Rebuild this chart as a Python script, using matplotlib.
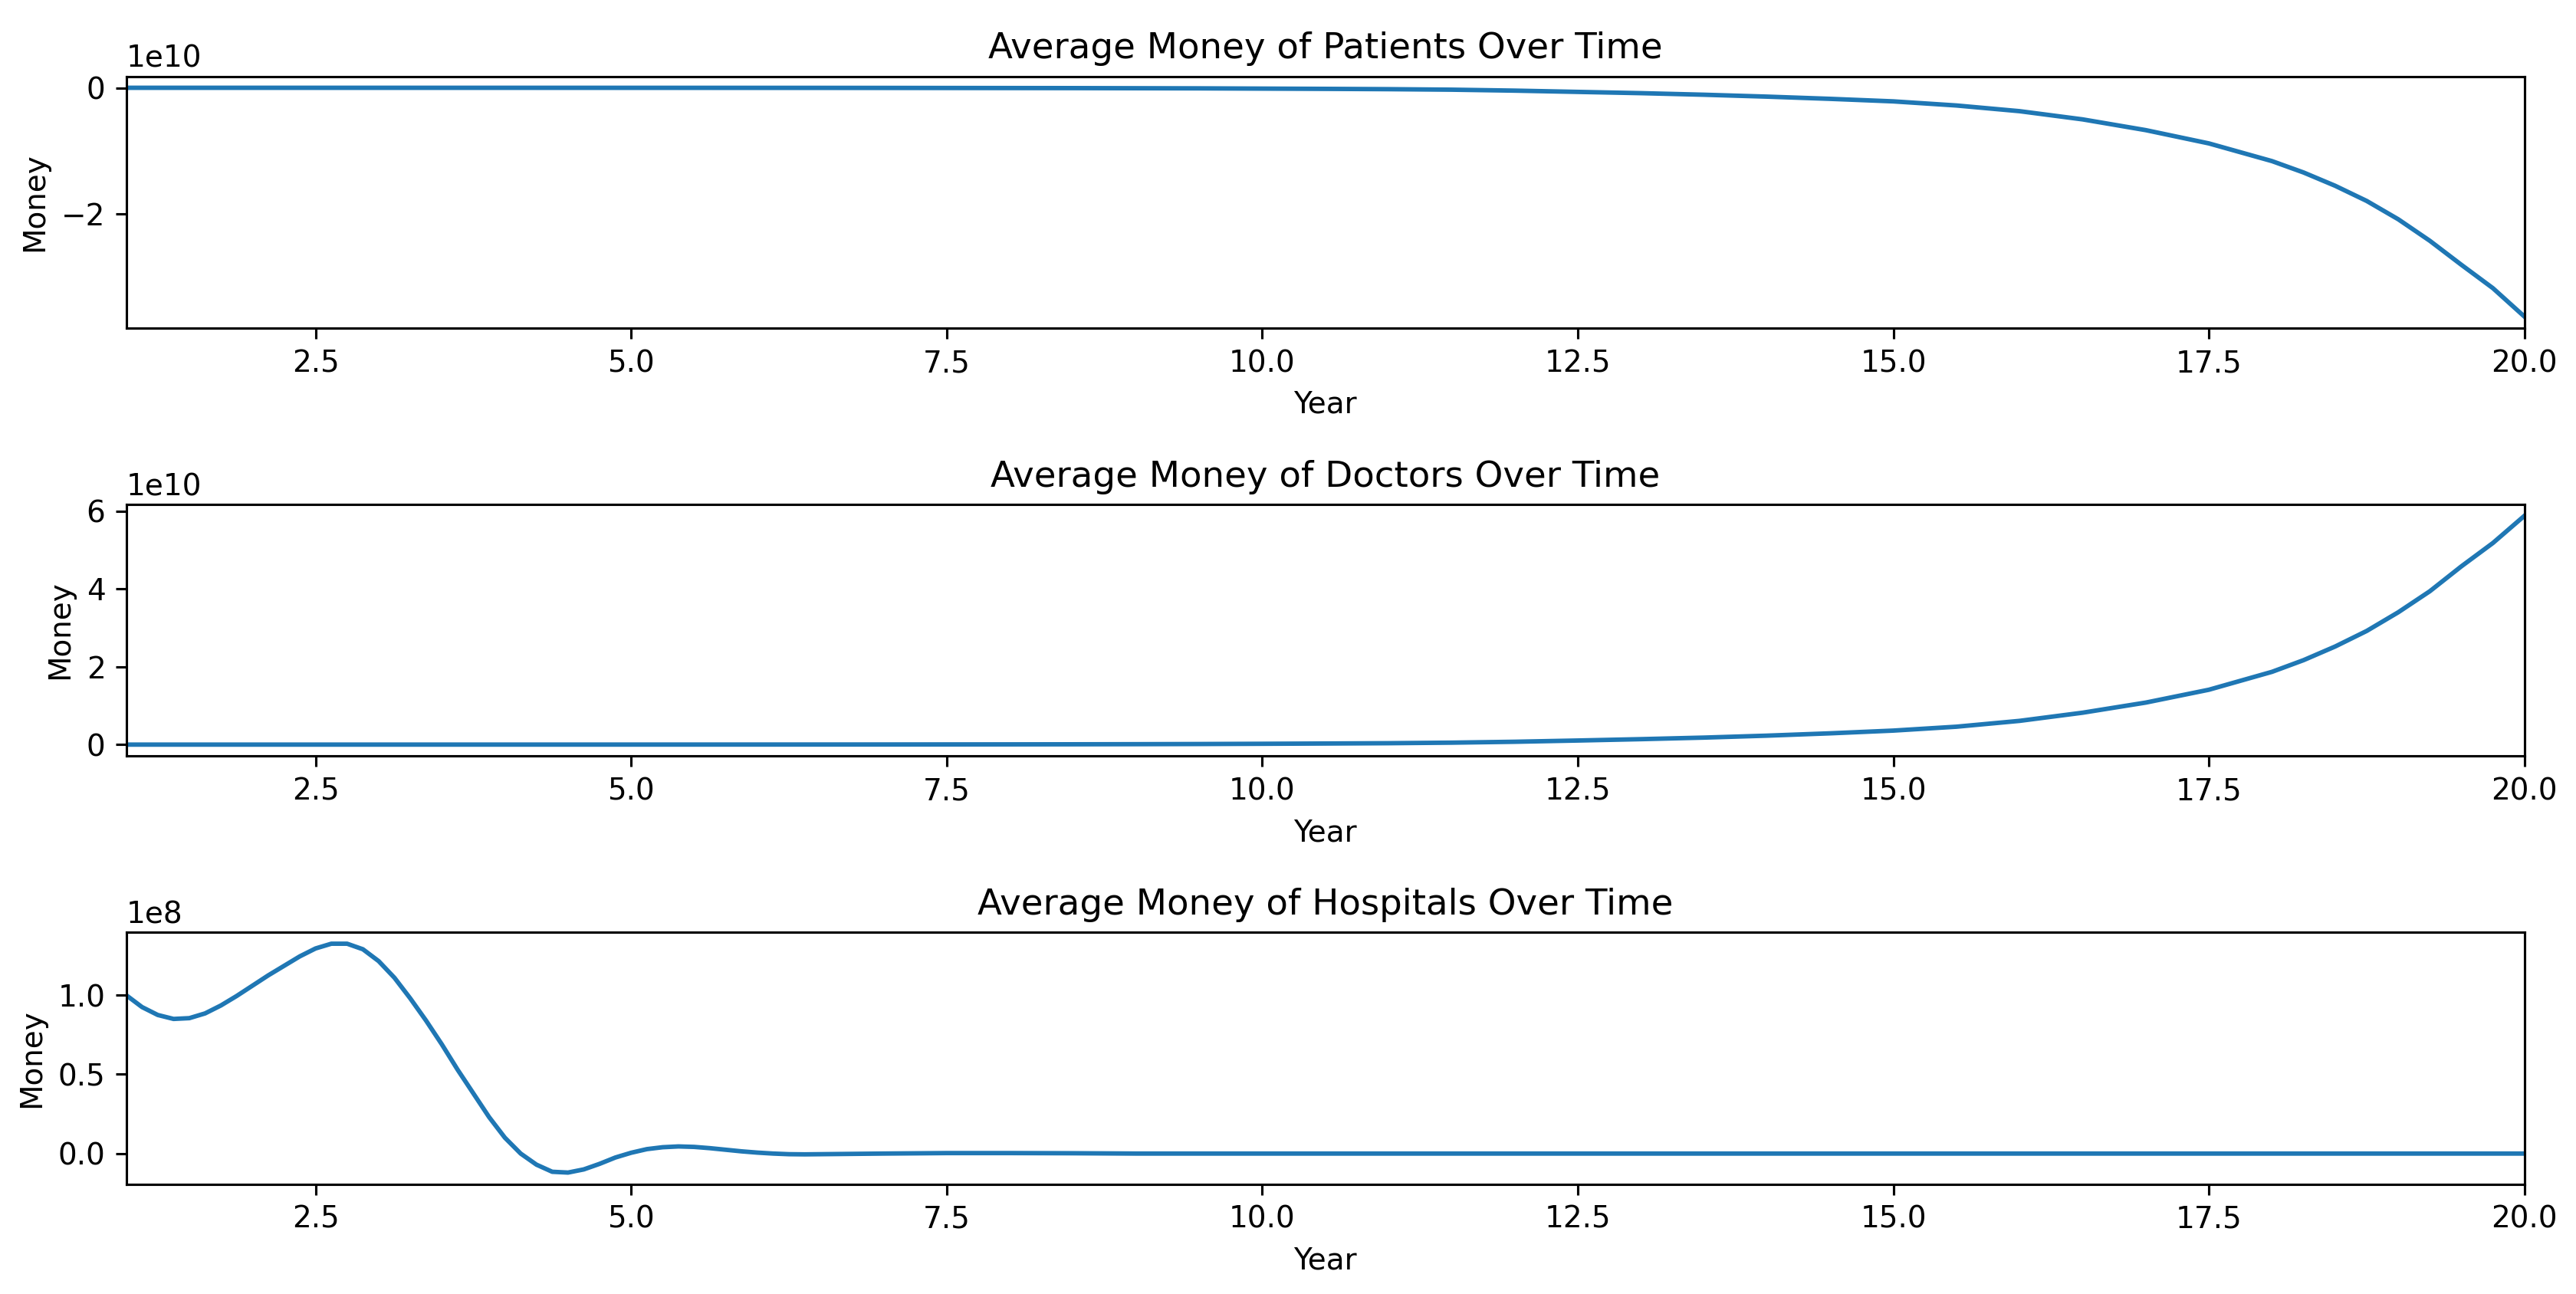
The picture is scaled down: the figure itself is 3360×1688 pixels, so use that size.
import matplotlib
matplotlib.use('Agg')
import matplotlib.pyplot as plt

# years for patients / doctors series
years = [1.0, 1.5, 2.0, 2.5, 3.0, 3.5, 4.0, 4.5, 5.0, 5.5, 6.0, 6.5, 7.0, 7.5,
         8.0, 8.5, 9.0, 9.5, 10.0, 10.5, 11.0, 11.5, 12.0, 12.5, 13.0, 13.5,
         14.0, 14.5, 15.0, 15.5, 16.0, 16.5, 17.0, 17.5, 18.0, 18.25, 18.5,
         18.75, 19.0, 19.25, 19.5, 19.75, 20.0]

# average money, units of 1e10
patients_money = [0.0, 0.0, 0.0, -0.0001, -0.0001, -0.0002, -0.0002, -0.0003,
                  -0.0005, -0.0007, -0.001, -0.0013, -0.002, -0.003, -0.004,
                  -0.005, -0.007, -0.009, -0.013, -0.017, -0.022, -0.03,
                  -0.045, -0.065, -0.085, -0.11, -0.14, -0.175, -0.215, -0.28,
                  -0.37, -0.50, -0.67, -0.88, -1.16, -1.34, -1.55, -1.79,
                  -2.08, -2.42, -2.80, -3.17, -3.62]

doctors_money = [0.0, 0.0, 0.0, 0.0001, 0.0002, 0.0003, 0.0004, 0.0005, 0.0008,
                 0.0011, 0.0016, 0.0022, 0.003, 0.0045, 0.006, 0.008, 0.011,
                 0.015, 0.021, 0.028, 0.036, 0.05, 0.073, 0.105, 0.14, 0.18,
                 0.23, 0.29, 0.36, 0.46, 0.61, 0.82, 1.08, 1.41, 1.87, 2.17,
                 2.52, 2.92, 3.40, 3.94, 4.58, 5.18, 5.88]

# hospitals, finer sampling in the early oscillation
hosp_years = [1.0, 1.125, 1.25, 1.375, 1.5, 1.625, 1.75, 1.875, 2.0, 2.125,
              2.25, 2.375, 2.5, 2.625, 2.75, 2.875, 3.0, 3.125, 3.25, 3.375,
              3.5, 3.625, 3.75, 3.875, 4.0, 4.125, 4.25, 4.375, 4.5, 4.625,
              4.75, 4.875, 5.0, 5.125, 5.25, 5.375, 5.5, 5.625, 5.75, 5.875,
              6.0, 6.125, 6.25, 6.375, 6.5, 7.0, 7.5, 8.0, 8.5, 9.0, 10.0,
              11.0, 12.0, 13.0, 14.0, 15.0, 16.0, 17.0, 18.0, 19.0, 20.0]

# units of 1e8
hospitals_money = [1.000, 0.925, 0.875, 0.850, 0.855, 0.885, 0.935, 0.995,
                   1.060, 1.125, 1.185, 1.245, 1.295, 1.325, 1.325, 1.290,
                   1.215, 1.110, 0.980, 0.840, 0.690, 0.530, 0.380, 0.230,
                   0.100, 0.000, -0.070, -0.115, -0.120, -0.100, -0.065,
                   -0.025, 0.005, 0.028, 0.040, 0.045, 0.042, 0.034, 0.024,
                   0.014, 0.006, 0.000, -0.004, -0.005, -0.004, 0.000, 0.003,
                   0.003, 0.002, 0.0, 0.0, 0.0, 0.0, 0.0, 0.0, 0.0, 0.0, 0.0,
                   0.0, 0.0, 0.0]

panels = [
    ('Average Money of Patients Over Time', years, [v * 1e10 for v in patients_money], [-2e10, 0]),
    ('Average Money of Doctors Over Time', years, [v * 1e10 for v in doctors_money], [0, 2e10, 4e10, 6e10]),
    ('Average Money of Hospitals Over Time', hosp_years, [v * 1e8 for v in hospitals_money], [0, 0.5e8, 1e8]),
]

fig, axes = plt.subplots(3, 1, figsize=(12, 6.0286))
fig.subplots_adjust(left=0.049, right=0.980, top=0.941, bottom=0.085, hspace=0.70)

for ax, (title, xs, ys, yt) in zip(axes, panels):
    ax.plot(xs, ys, color='#1f77b4')
    ax.set_title(title)
    ax.set_xlabel('Year')
    ax.set_ylabel('Money')
    ax.set_xlim(1, 20)
    ax.set_yticks(yt)

fig.savefig('out.png', dpi=280)
